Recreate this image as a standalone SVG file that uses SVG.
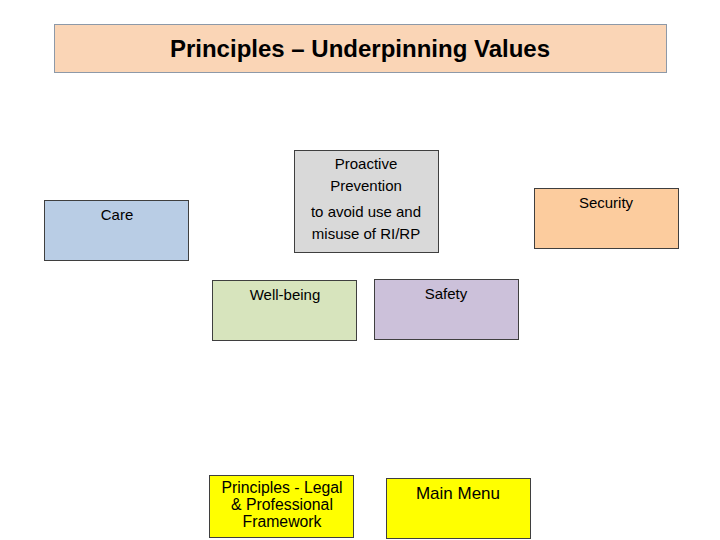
<svg xmlns="http://www.w3.org/2000/svg" width="720" height="540" viewBox="0 0 720 540">
<style>
.box{stroke:#3f3f3f;stroke-width:1}
.t{font-family:"Liberation Sans",Arial,sans-serif;font-size:15px;fill:#000;text-anchor:middle}
.y{font-family:"Liberation Sans",Arial,sans-serif;font-size:15.8px;fill:#000;text-anchor:middle}
</style>
<rect width="720" height="540" fill="#fff"/>
<g id="title">
<rect x="54.5" y="24.5" width="612" height="48" fill="#fad5b6" stroke="#8d99a8" stroke-width="1"/>
<text x="360" y="57" font-family="'Liberation Sans',Arial,sans-serif" font-size="24" font-weight="bold" text-anchor="middle" fill="#000">Principles – Underpinning Values</text>
</g>
<g id="connectors"></g>
<g id="care">
<rect class="box" x="44.5" y="200.5" width="144" height="60" fill="#b9cde5"/>
<text class="t" x="117" y="220">Care</text>
</g>
<g id="proactive">
<rect class="box" x="294.5" y="150.5" width="144" height="102" fill="#d9d9d9"/>
<text class="t" x="366" y="169">Proactive</text>
<text class="t" x="366" y="191">Prevention</text>
<text class="t" x="366" y="217">to avoid use and</text>
<text class="t" x="366" y="239">misuse of RI/RP</text>
</g>
<g id="security">
<rect class="box" x="534.5" y="188.5" width="144" height="60" fill="#fccc9e"/>
<text class="t" x="606" y="208">Security</text>
</g>
<g id="wellbeing">
<rect class="box" x="212.5" y="280.5" width="144" height="60" fill="#d7e4bd"/>
<text class="t" x="285" y="300">Well-being</text>
</g>
<g id="safety">
<rect class="box" x="374.5" y="279.5" width="144" height="60" fill="#ccc1da"/>
<text class="t" x="446" y="299">Safety</text>
</g>
<g id="legal">
<rect class="box" x="209.5" y="475.5" width="144" height="62" fill="#ffff00"/>
<text class="y" x="282" y="493">Principles - Legal</text>
<text class="y" x="282" y="510">&amp; Professional</text>
<text class="y" x="282" y="527">Framework</text>
</g>
<g id="mainmenu">
<rect class="box" x="386.5" y="478.5" width="144" height="60" fill="#ffff00"/>
<text x="458" y="499" font-family="'Liberation Sans',Arial,sans-serif" font-size="17" text-anchor="middle" fill="#000">Main Menu</text>
</g>
</svg>
